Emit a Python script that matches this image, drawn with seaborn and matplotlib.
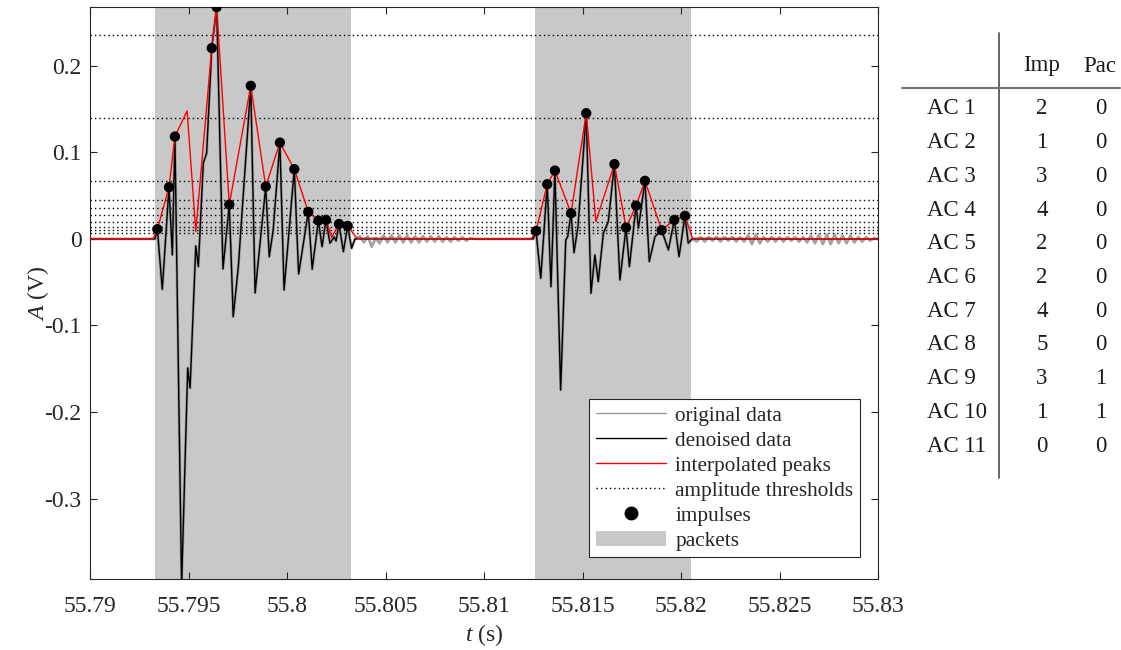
import numpy as np
import pandas as pd
import matplotlib
matplotlib.use("Agg")
import matplotlib.pyplot as plt
from matplotlib.lines import Line2D
from matplotlib.patches import Patch
import seaborn as sns

# ---------------- data ----------------
# denoised signal, packet 1 (vertices: t [s], A [V])
den1_t = [55.79330, 55.79342, 55.79367, 55.79401, 55.79418, 55.79431, 55.79465, 55.79496,
          55.79508, 55.79537, 55.79550, 55.79575, 55.79592, 55.79618, 55.79643, 55.79675,
          55.79707, 55.79727, 55.79753, 55.79816, 55.79838, 55.79892, 55.79910, 55.79930,
          55.79964, 55.79985, 55.80037, 55.80059, 55.80108, 55.80128, 55.80159, 55.80178,
          55.80198, 55.80218, 55.80239, 55.80249, 55.80264, 55.80286, 55.80308, 55.80328,
          55.80345]
den1_a = [0.0, 0.0112, -0.0582, 0.0598, -0.0185, 0.1183, -0.400, -0.1491,
          -0.1723, -0.0081, -0.0320, 0.0875, 0.0991, 0.2205, 0.2679, -0.0347,
          0.0397, -0.0898, -0.0320, 0.1769, -0.0624, 0.0605, -0.0205, 0.0104,
          0.1113, -0.0590, 0.0806, -0.0405, 0.0312, -0.0350, 0.0212, -0.0089,
          0.0220, -0.0050, 0.0023, -0.0023, 0.0173, -0.0147, 0.0150, -0.0108,
          0.0]
# denoised signal, packet 2
den2_t = [55.81250, 55.81264, 55.81288, 55.81321, 55.81340, 55.81360, 55.81389, 55.81415,
          55.81425, 55.81442, 55.81457, 55.81477, 55.81519, 55.81543, 55.81563, 55.81580,
          55.81606, 55.81631, 55.81662, 55.81690, 55.81721, 55.81738, 55.81772, 55.81784,
          55.81817, 55.81839, 55.81868, 55.81902, 55.81936, 55.81966, 55.81990, 55.82020,
          55.82037, 55.82056]
den2_a = [0.0, 0.0092, -0.0454, 0.0632, -0.0551, 0.0790, -0.1746, -0.0012,
          0.0027, 0.0297, -0.0158, 0.0142, 0.1453, -0.0628, -0.0185, -0.0494,
          0.0066, 0.0200, 0.0864, -0.0474, 0.0131, -0.0320, 0.0385, 0.0124,
          0.0671, -0.0262, 0.0027, 0.0101, -0.0127, 0.0220, -0.0205, 0.0266,
          -0.0050, 0.0]

# residual noise of the original data between / after packets
gap1_t = [55.8035, 55.8037, 55.8039, 55.8041, 55.8043, 55.8045, 55.8047, 55.8049, 55.8051,
          55.8053, 55.8055, 55.8057, 55.8059, 55.8061, 55.8063, 55.8065, 55.8067, 55.8069,
          55.8071, 55.8073, 55.8075, 55.8077, 55.8079, 55.8081, 55.8083, 55.8085, 55.8087,
          55.8089, 55.8091, 55.8093, 55.8096, 55.8124]
gap1_a = [0.000, 0.003, -0.004, 0.003, -0.009, 0.001, -0.005, 0.004, -0.004,
          0.004, -0.004, 0.004, -0.004, 0.004, -0.004, 0.003, -0.004, 0.003,
          -0.003, 0.003, -0.003, 0.003, -0.003, 0.002, -0.003, 0.002, -0.002,
          0.002, -0.002, 0.001, 0.000, 0.000]
gap2_t = [55.8206, 55.8208, 55.8210, 55.8212, 55.8214, 55.8216, 55.8218, 55.8220, 55.8222,
          55.8224, 55.8226, 55.8228, 55.8230, 55.8232, 55.8234, 55.8236, 55.8238, 55.8240,
          55.8242, 55.8244, 55.8246, 55.8248, 55.8250, 55.8252, 55.8254, 55.8256, 55.8258,
          55.8260, 55.8262, 55.8264, 55.8266, 55.8268, 55.8270, 55.8272, 55.8274, 55.8276,
          55.8278, 55.8280, 55.8282, 55.8284, 55.8286, 55.8288, 55.8290, 55.8292, 55.8294,
          55.8296, 55.8298, 55.8300]
gap2_a = [0.000, -0.003, 0.002, -0.003, 0.002, -0.002, 0.002, -0.003, 0.002,
          -0.002, 0.002, -0.003, 0.002, -0.003, 0.004, -0.006, 0.005, -0.005,
          0.002, -0.003, 0.002, -0.003, 0.002, -0.003, 0.002, -0.002, 0.002,
          -0.003, 0.002, -0.004, 0.004, -0.005, 0.005, -0.006, 0.005, -0.006,
          0.005, -0.005, 0.004, -0.005, 0.004, -0.004, 0.002, -0.003, 0.002,
          -0.002, 0.001, 0.000]

# interpolated peaks (red)
peak_t = [55.7900, 55.79320, 55.79342, 55.79401, 55.79431, 55.79493, 55.79537, 55.79618,
          55.79643, 55.79707, 55.79816, 55.79892, 55.79964, 55.80037, 55.80108, 55.80159,
          55.80198, 55.80227, 55.80264, 55.80308, 55.80354, 55.81240, 55.81264, 55.81321,
          55.81360, 55.81442, 55.81519, 55.81568, 55.81662, 55.81721, 55.81772, 55.81817,
          55.81902, 55.81966, 55.82020, 55.82058, 55.8300]
peak_a = [0.0, 0.0, 0.0112, 0.0598, 0.1183, 0.1480, 0.0084, 0.2205,
          0.2679, 0.0397, 0.1769, 0.0605, 0.1113, 0.0806, 0.0312, 0.0212,
          0.0220, 0.0020, 0.0173, 0.0150, 0.0008, 0.0, 0.0092, 0.0632,
          0.0790, 0.0297, 0.1453, 0.0200, 0.0864, 0.0131, 0.0385, 0.0671,
          0.0101, 0.0220, 0.0266, 0.0008, 0.0]

# impulses (black dots)
imp_t = [55.79342, 55.79401, 55.79431, 55.79618, 55.79643, 55.79707, 55.79816, 55.79892,
         55.79964, 55.80037, 55.80108, 55.80159, 55.80198, 55.80264, 55.80308, 55.81264,
         55.81321, 55.81360, 55.81442, 55.81519, 55.81662, 55.81721, 55.81772, 55.81817,
         55.81902, 55.81966, 55.82020]
imp_a = [0.0112, 0.0598, 0.1183, 0.2205, 0.2679, 0.0397, 0.1769, 0.0605,
         0.1113, 0.0806, 0.0312, 0.0212, 0.0220, 0.0173, 0.0150, 0.0092,
         0.0632, 0.0790, 0.0297, 0.1453, 0.0864, 0.0131, 0.0385, 0.0671,
         0.0101, 0.0220, 0.0266]

thresholds = [0.236, 0.140, 0.067, 0.045, 0.0355, 0.028, 0.019, 0.0133, 0.0104, 0.0069]
packet_start = [55.79330, 55.81259]
packet_end = [55.80325, 55.82051]

xticks = [55.79, 55.795, 55.80, 55.805, 55.81, 55.815, 55.82, 55.825, 55.83]
xtick_labels = ["55.79", "55.795", "55.8", "55.805", "55.81", "55.815", "55.82", "55.825", "55.83"]
yticks = [-0.3, -0.2, -0.1, 0.0, 0.1, 0.2]
ytick_labels = ["-0.3", "-0.2", "-0.1", "0", "0.1", "0.2"]

ac_labels = ["AC 1", "AC 2", "AC 3", "AC 4", "AC 5", "AC 6", "AC 7", "AC 8", "AC 9", "AC 10", "AC 11"]
imp_counts = [2, 1, 3, 4, 2, 2, 4, 5, 3, 1, 0]
pac_counts = [0, 0, 0, 0, 0, 0, 0, 0, 1, 1, 0]

# ---------------- style ----------------
sns.set_theme(style="white")
plt.rcParams["font.family"] = ["Liberation Serif", "DejaVu Serif"]
plt.rcParams["mathtext.fontset"] = "custom"
plt.rcParams["mathtext.rm"] = "Liberation Serif"
plt.rcParams["mathtext.it"] = "Liberation Serif:italic"
plt.rcParams["axes.unicode_minus"] = False

W, H = 1121, 650
fig = plt.figure(figsize=(W / 100, H / 100), dpi=100)
ax = fig.add_axes([90 / W, (H - 579) / H, 788 / W, 572 / H])

den_t = [55.7900] + den1_t + den2_t + [55.8300]
den_a = [0.0] + den1_a + den2_a + [0.0]
orig_t = [55.7900] + den1_t + gap1_t + den2_t + gap2_t
orig_a = [0.0] + den1_a + gap1_a + den2_a + gap2_a

df_den = pd.DataFrame({"t": den_t, "A": den_a})
df_orig = pd.DataFrame({"t": orig_t, "A": orig_a})
df_peak = pd.DataFrame({"t": peak_t, "A": peak_a})
df_imp = pd.DataFrame({"t": imp_t, "A": imp_a})

pk_col = "#c8c8c8"
for s, e in zip(packet_start, packet_end):
    ax.axvspan(s, e, color=pk_col, lw=0, zorder=0)

for th in thresholds:
    ax.axhline(th, color="black", lw=1.0, ls=(0, (1, 2.2)), zorder=1)

sns.lineplot(data=df_orig, x="t", y="A", sort=False, estimator=None, ax=ax,
             color="0.55", lw=2.0, alpha=0.8, zorder=2)
sns.lineplot(data=df_den, x="t", y="A", sort=False, estimator=None, ax=ax,
             color="black", lw=1.0, zorder=3)
sns.lineplot(data=df_peak, x="t", y="A", sort=False, estimator=None, ax=ax,
             color="#ff0000", lw=1.0, zorder=4)
sns.scatterplot(data=df_imp, x="t", y="A", ax=ax, color="black", s=55,
                edgecolor="none", zorder=5)

ax.set_xlim(55.79, 55.83)
ax.set_ylim(-0.393, 0.268)
ax.set_xticks(xticks)
ax.set_xticklabels(xtick_labels)
ax.set_yticks(yticks)
ax.set_yticklabels(ytick_labels)
ax.tick_params(direction="in", length=5, width=0.8, colors="0.15", labelsize=17,
               top=True, right=True, bottom=True, left=True, labelcolor="0.15", pad=6)
ax.tick_params(axis="x", pad=12)
for sp in ax.spines.values():
    sp.set_visible(True)
    sp.set_color("0.15")
    sp.set_linewidth(0.8)
ax.set_xlabel(r"$t$ (s)", fontsize=17, color="0.15", labelpad=4)
ax.set_ylabel(r"$A$ (V)", fontsize=17, color="0.15")
ax.yaxis.set_label_coords(-0.05, 0.5)
ax.grid(False)

handles = [
    Line2D([], [], color="0.6", lw=1.0),
    Line2D([], [], color="black", lw=1.0),
    Line2D([], [], color="#ff0000", lw=1.0),
    Line2D([], [], color="black", lw=1.0, ls=(0, (1, 2.2))),
    Line2D([], [], color="black", lw=0, marker="o", markersize=9),
    Patch(facecolor=pk_col, edgecolor="none"),
]
labels = ["original data", "denoised data", "interpolated peaks",
          "amplitude thresholds", "impulses", "packets"]
leg = ax.legend(handles, labels, loc="lower right", bbox_to_anchor=(0.977, 0.0385),
                borderaxespad=0, fontsize=15.3, frameon=True, fancybox=False,
                edgecolor="0.15", framealpha=1, handlelength=3.3, handletextpad=0.45,
                labelspacing=0.24, borderpad=0.3)
leg.get_frame().set_linewidth(0.8)

# ---------------- table ----------------
tax = fig.add_axes([0, 0, 1, 1])
tax.set_xlim(0, W)
tax.set_ylim(H, 0)
tax.axis("off")
tax.plot([999, 999], [33, 478], color="0.3", lw=1.2)
tax.plot([902, 1120], [88, 88], color="0.45", lw=1.5)
fs = 16.5
tax.text(1042, 66, "Imp", ha="center", va="center", fontsize=fs, color="0.1")
tax.text(1100, 66, "Pac", ha="center", va="center", fontsize=fs, color="0.1")
row_y = np.linspace(109, 446, len(ac_labels))
for lab, ni, npk, yy in zip(ac_labels, imp_counts, pac_counts, row_y):
    tax.text(927, yy, lab, ha="left", va="center", fontsize=fs, color="0.1")
    tax.text(1042, yy, str(ni), ha="center", va="center", fontsize=fs, color="0.1")
    tax.text(1101, yy, str(npk), ha="center", va="center", fontsize=fs, color="0.1")

fig.savefig("out.png", dpi=100)
